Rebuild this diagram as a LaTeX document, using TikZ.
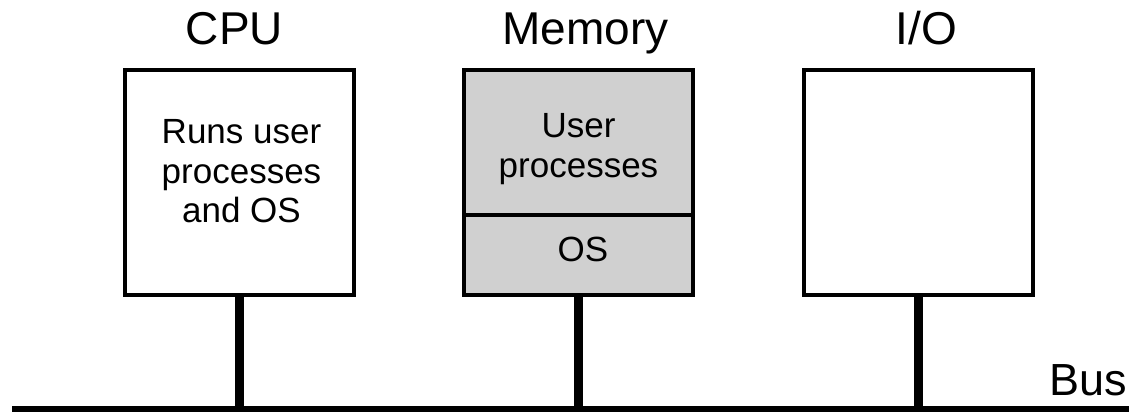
\documentclass[tikz,border=0pt]{standalone}
\usepackage{fontspec}
\setmainfont{Liberation Sans}
\definecolor{memgray}{RGB}{208,208,208}
\begin{document}
\begin{tikzpicture}[x=1pt,y=-1pt,
  unit/.style={draw=black, line width=4pt, inner sep=0pt,
               minimum width=229pt, minimum height=225pt},
  memfill/.style={fill=memgray},
  title/.style={font=\fontsize{46}{50}\selectfont, anchor=base, inner sep=0pt},
  body/.style={font=\fontsize{35}{40}\selectfont, anchor=base, inner sep=0pt},
  stem/.style={line width=9.5pt},
  busline/.style={line width=7pt}]
\useasboundingbox (0,0) rectangle (1129,412);

% the three units
\node[unit] (cpu) at (239.5,182.5) {};
\node[unit, memfill] (memory) at (578.5,182.5) {};
\node[unit] (io) at (918.5,182.5) {};

% memory split into user area and OS area
\draw[line width=4pt] (memory.west |- 0,215) -- (memory.east |- 0,215);

% headings
\node[title] (cpuT) at (234.5,45) {CPU};
\node[title] (memT) at (585.5,45) {Memory};
\node[title] (ioT) at (926.5,45) {I/O};

% contents
\node[body] (cpu1) at (241.5,143) {Runs user};
\node[body] (cpu2) at (241.5,183) {processes};
\node[body] (cpu3) at (241.5,222) {and OS};
\node[body] (mem1) at (578.5,137) {User};
\node[body] (mem2) at (578.5,177) {processes};
\node[body] (mem3) at (583,261) {OS};

% system bus
\coordinate (busL) at (12,409);
\coordinate (busR) at (1129,409);
\draw[busline] (busL) -- (busR);
\node[font=\fontsize{45}{50}\selectfont, anchor=base east, inner sep=0pt] (busT) at (1127,395) {Bus};

% connections to the bus
\draw[stem] (cpu.south) -- (cpu.south |- busL);
\draw[stem] (memory.south) -- (memory.south |- busL);
\draw[stem] (io.south) -- (io.south |- busL);
\end{tikzpicture}
\end{document}
